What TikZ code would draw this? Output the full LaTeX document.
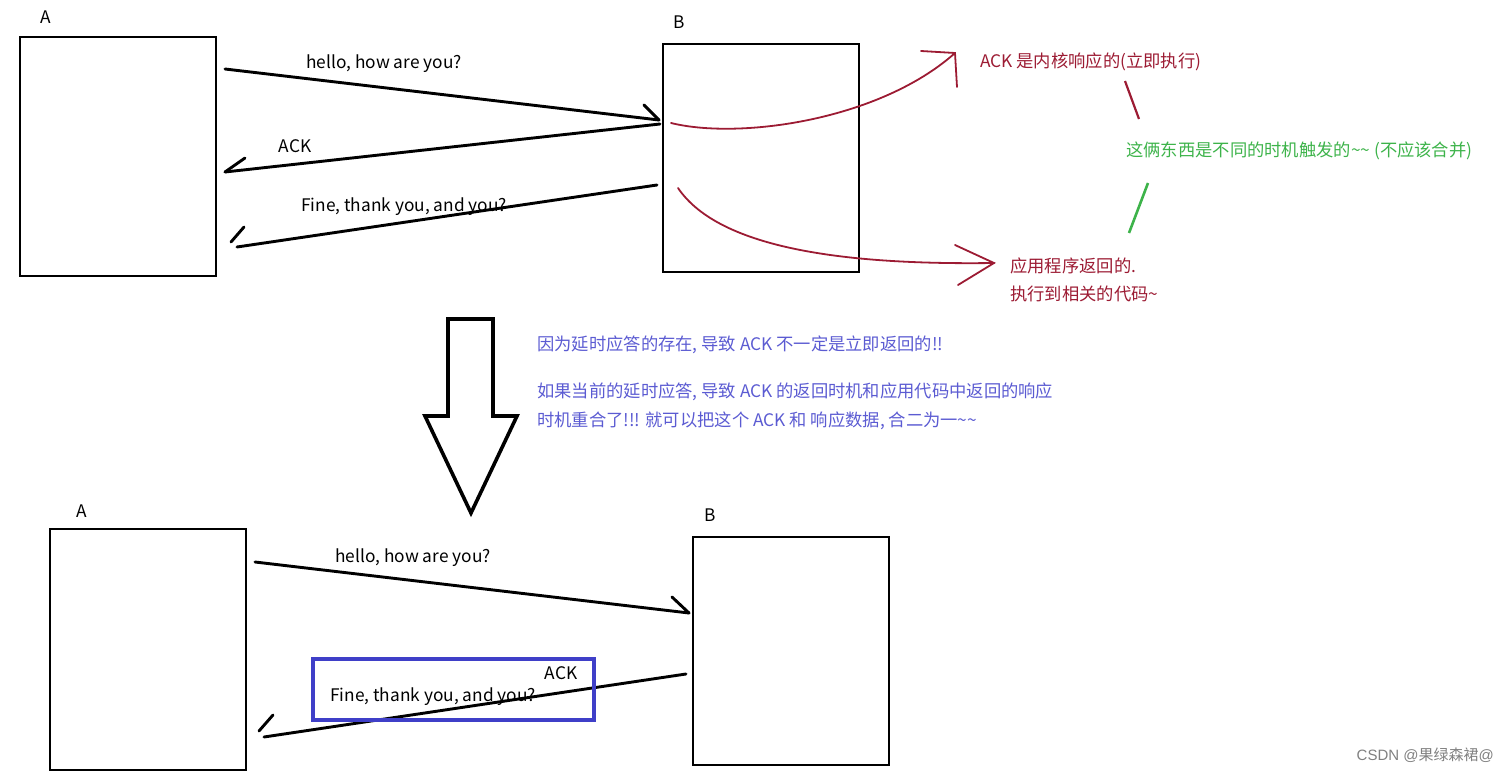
\documentclass[tikz,border=0pt]{standalone}
\usepackage{fontspec}
\usepackage{xcolor}
\setmainfont{Noto Sans CJK SC}
\newfontfamily\markfont{Liberation Sans}
\usetikzlibrary{positioning,calc}

\definecolor{kernred}{HTML}{9C1B33}
\definecolor{notegreen}{HTML}{3DB34A}
\definecolor{noteblue}{HTML}{5B5BD2}
\definecolor{framblue}{HTML}{3F3FC8}

\begin{document}
\begin{tikzpicture}[
    x=1pt, y=-1pt,
    host/.style={rectangle, draw, line width=2.8pt, minimum width=196pt, minimum height=239pt, inner sep=0pt},
    msg/.style={line width=2.9pt, line cap=round},
    curve/.style={draw=kernred, line width=1.8pt, line cap=round},
    txt/.style={inner sep=0pt, font=\fontsize{17.3}{20}\selectfont},
    note/.style={txt, anchor=west}
]
    \useasboundingbox (0,0) rectangle (1508,776);

    % upper exchange
    \node[host] (topA) at (118,156.5) {};
    \node[host, minimum height=228pt] (topB) at (761,158) {};
    \node[txt] (topAname) at (46,17) {A};
    \node[txt] (topBname) at (679,22) {B};

    \coordinate (helloS) at (225,69);
    \coordinate (helloE) at (659,120);
    \coordinate (ackS) at (660,124);
    \coordinate (ackE) at (225,172);
    \coordinate (fineS) at (657,185);
    \coordinate (fineE) at (237,247);

    \draw[msg] (helloS) -- (helloE);
    \draw[msg] (helloE) -- ++(-15,-15);
    \draw[msg] (ackS) -- (ackE);
    \draw[msg] (ackE) -- ++(20,-14);
    \draw[msg] (fineS) -- (fineE);
    \draw[msg] (231,242) -- (244,227);

    \node[txt] (helloT) at (384,64) {hello, how are you?};
    \node[txt] (ackT) at (295,146) {ACK};
    \node[txt] (fineT) at (404,207) {Fine, thank you, and you?};

    % kernel ACK vs application reply
    \node[note, text=kernred] (kernT) at (980,62) {ACK 是内核响应的(立即执行)};
    \node[note, text=notegreen] (diffT) at (1126,151) {这俩东西是不同的时机触发的\textasciitilde\textasciitilde{} (不应该合并)};
    \node[note, text=kernred] (appT) at (1010,266) {应用程序返回的.};
    \node[note, text=kernred] (codeT) at (1010,294) {执行到相关的代码\textasciitilde};

    \coordinate (kernS) at (671,123);
    \coordinate (kernE) at (955,53);
    \coordinate (appS) at (678,188);
    \coordinate (appE) at (994,263);
    \draw[curve] (kernS) .. controls (740,140) and (880,120) .. (kernE);
    \draw[curve] (921,51) -- (kernE) -- (957,87);
    \draw[curve] (appS) .. controls (720,250) and (850,265) .. (appE);
    \draw[curve] (955,245) -- (appE) -- (958,285);

    \draw[kernred, line width=2.2pt] (1125,81) -- (1139,119);
    \draw[notegreen, line width=2.6pt] (1148,183) -- (1129,233);

    % turning point
    \draw[line width=3.6pt, line join=miter]
        (448,319) -- (493,319) -- (493,416) -- (517,416) -- (471,513)
        -- (425,416) -- (448,416) -- cycle;

    \node[note, text=noteblue] (delayT) at (537,345) {因为延时应答的存在, 导致 ACK 不一定是立即返回的!!};
    \node[note, text=noteblue] (mergeT) at (537,392) {如果当前的延时应答, 导致 ACK 的返回时机和应用代码中返回的响应};
    \node[note, text=noteblue] (mergeU) at (537,421) {时机重合了!!! 就可以把这个 ACK 和 响应数据, 合二为一\textasciitilde\textasciitilde};

    % lower exchange
    \node[host, minimum height=241pt] (botA) at (148,649.5) {};
    \node[host, minimum height=228pt] (botB) at (791,651) {};
    \node[txt] (botAname) at (82,511) {A};
    \node[txt] (botBname) at (710,515) {B};

    \coordinate (hello2S) at (255,562);
    \coordinate (hello2E) at (689,613);
    \coordinate (fine2S) at (686,674);
    \coordinate (fine2E) at (264,737);

    \draw[msg] (hello2S) -- (hello2E);
    \draw[msg] (hello2E) -- ++(-17,-16);
    \draw[msg] (fine2S) -- (fine2E);
    \draw[msg] (259,731) -- (273,715);

    \node[txt] (hello2T) at (413,558) {hello, how are you?};
    \node[draw=framblue, line width=3.6pt, minimum width=281pt, minimum height=61pt] (pack) at (453.5,689.5) {};
    \node[txt] (ack2T) at (561,673) {ACK};
    \node[txt] (fine2T) at (433,697) {Fine, thank you, and you?};

    \node[anchor=east, inner sep=0pt, text=black!50, font=\markfont\fontsize{15}{18}\selectfont] (mark) at (1494,755) {CSDN @{\fontspec{Noto Sans CJK SC}果绿森裙}@};
\end{tikzpicture}
\end{document}
